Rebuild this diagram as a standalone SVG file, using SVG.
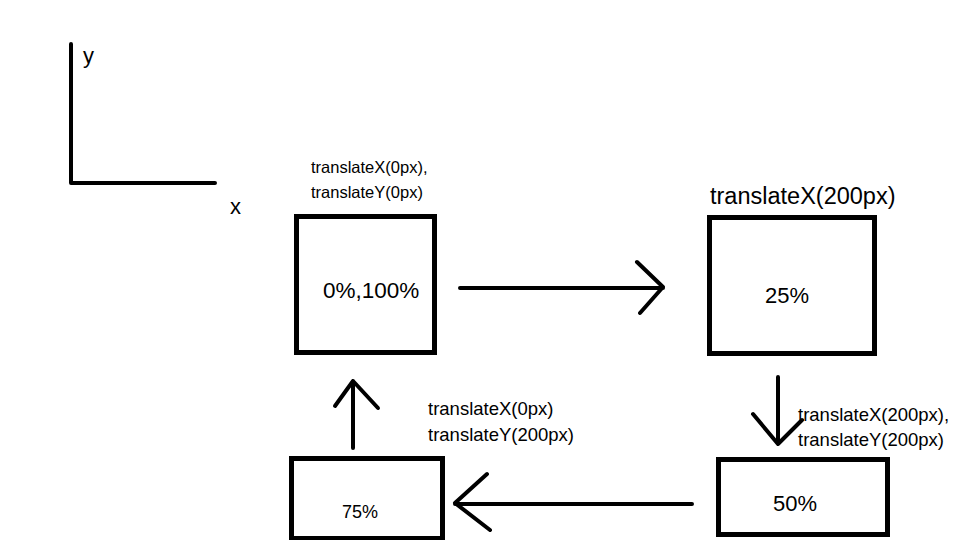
<svg xmlns="http://www.w3.org/2000/svg" width="960" height="540" viewBox="0 0 960 540">
<style>
.box{fill:none;stroke:#000;stroke-width:5}
.ln{fill:none;stroke:#000;stroke-width:4;stroke-linecap:round;stroke-linejoin:round}
text{font-family:"Liberation Sans",Arial,sans-serif;fill:#000}
.s{font-size:16.5px}
.b{font-size:18.5px}
.m{font-size:22px}
</style>
<rect width="960" height="540" fill="#fff"/>
<g id="axes">
<path class="ln" d="M71,44 V183 H215"/>
<text x="83" y="63" class="m">y</text>
<text x="230" y="214" class="m">x</text>
</g>
<g id="node-0">
<rect class="box" x="296.5" y="216.5" width="138" height="136"/>
<text x="311" y="173" class="s">translateX(0px),</text>
<text x="311" y="198" class="s">translateY(0px)</text>
<text x="323" y="298" font-size="22.5">0%,100%</text>
</g>
<g id="node-25">
<rect class="box" x="709.5" y="217.5" width="165" height="136"/>
<text x="710" y="204" font-size="23.5">translateX(200px)</text>
<text x="787" y="303" class="m" text-anchor="middle">25%</text>
</g>
<g id="node-50">
<rect class="box" x="718.5" y="459.5" width="169" height="75"/>
<text x="798" y="421" class="b">translateX(200px),</text>
<text x="798" y="446" class="b">translateY(200px)</text>
<text x="795" y="511" class="m" text-anchor="middle">50%</text>
</g>
<g id="node-75">
<rect class="box" x="291.5" y="458.5" width="151" height="80"/>
<text x="428" y="415" class="b">translateX(0px)</text>
<text x="428" y="441" class="b">translateY(200px)</text>
<text x="360" y="518" font-size="18" text-anchor="middle">75%</text>
</g>
<g id="connectors">
<path class="ln" d="M460,288 H663 M637,262 L663,287 L640,313"/>
<path class="ln" d="M778,377 V444 M753,414 L778,444 L802,420"/>
<path class="ln" d="M692,504 H455 M487,474 L455,503 L490,530"/>
<path class="ln" d="M353,448 V381 M335,406 L353,381 L378,408"/>
</g>
</svg>
